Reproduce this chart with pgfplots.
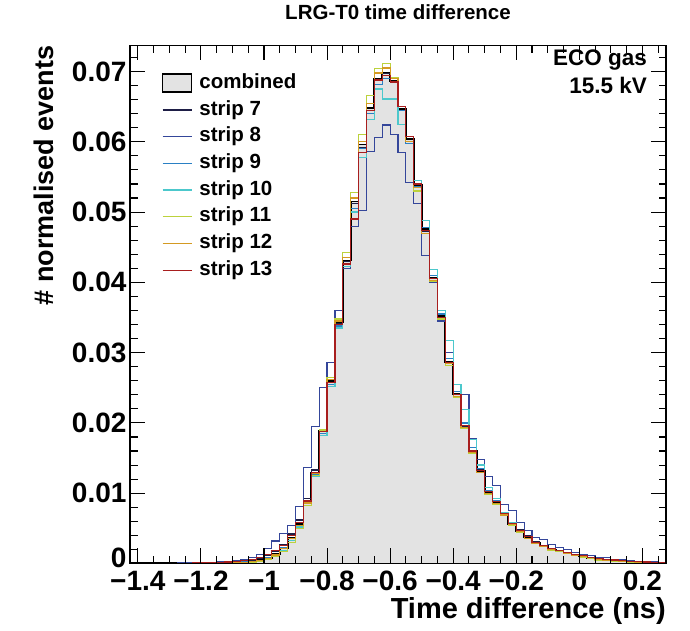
\documentclass[border=0pt]{standalone}
\usepackage{pgfplots}
\pgfplotsset{compat=1.18}
\usepackage{pgfplotstable}
\usepackage{fontspec}
\setmainfont{Liberation Sans}
\definecolor{cfill}{HTML}{E3E3E3}
\definecolor{cs7}{HTML}{1E1E46}
\definecolor{cs8}{HTML}{34469A}
\definecolor{cs9}{HTML}{2A80C4}
\definecolor{cs10}{HTML}{4CC8CC}
\definecolor{cs11}{HTML}{BCD23C}
\definecolor{cs12}{HTML}{D49A22}
\definecolor{cs13}{HTML}{A81E1E}
\pgfplotstableread{
x c s7 s8 s9 s10 s11 s12 s13
-1.425 0.00002 0.00002 0.00003 0.00002 0.00002 0.00001 0.00002 0.00002
-1.400 0.00002 0.00002 0.00003 0.00002 0.00002 0.00001 0.00002 0.00002
-1.375 0.00002 0.00002 0.00003 0.00002 0.00002 0.00001 0.00002 0.00002
-1.350 0.00002 0.00003 0.00004 0.00002 0.00002 0.00002 0.00002 0.00003
-1.325 0.00003 0.00003 0.00004 0.00003 0.00002 0.00002 0.00003 0.00003
-1.300 0.00003 0.00004 0.00005 0.00003 0.00003 0.00002 0.00003 0.00004
-1.275 0.00003 0.00004 0.00006 0.00003 0.00003 0.00002 0.00003 0.00004
-1.250 0.00004 0.00005 0.00007 0.00004 0.00003 0.00003 0.00004 0.00005
-1.225 0.00004 0.00006 0.00009 0.00004 0.00004 0.00003 0.00004 0.00006
-1.200 0.00005 0.00008 0.00012 0.00005 0.00004 0.00004 0.00005 0.00008
-1.175 0.00006 0.00010 0.00016 0.00006 0.00005 0.00005 0.00006 0.00010
-1.150 0.00008 0.00013 0.00020 0.00008 0.00007 0.00006 0.00008 0.00014
-1.125 0.00010 0.00017 0.00027 0.00010 0.00009 0.00008 0.00010 0.00020
-1.100 0.00014 0.00024 0.00037 0.00014 0.00012 0.00010 0.00013 0.00028
-1.075 0.00020 0.00033 0.00050 0.00020 0.00017 0.00015 0.00019 0.00040
-1.050 0.00030 0.00048 0.00080 0.00030 0.00026 0.00022 0.00028 0.00058
-1.025 0.00047 0.00070 0.00130 0.00046 0.00040 0.00035 0.00045 0.00090
-1.000 0.00080 0.00110 0.00210 0.00080 0.00070 0.00060 0.00075 0.00130
-0.975 0.00130 0.00170 0.00320 0.00130 0.00110 0.00100 0.00120 0.00180
-0.950 0.00220 0.00270 0.00430 0.00220 0.00190 0.00170 0.00210 0.00260
-0.925 0.00370 0.00420 0.00540 0.00360 0.00330 0.00300 0.00350 0.00400
-0.900 0.00560 0.00620 0.00810 0.00540 0.00520 0.00500 0.00540 0.00580
-0.875 0.00870 0.00920 0.01370 0.00850 0.00830 0.00820 0.00860 0.00890
-0.850 0.01290 0.01330 0.01950 0.01270 0.01240 0.01250 0.01280 0.01300
-0.825 0.01890 0.01910 0.02500 0.01850 0.01820 0.01900 0.01880 0.01880
-0.800 0.02600 0.02620 0.02860 0.02550 0.02520 0.02650 0.02620 0.02580
-0.775 0.03430 0.03420 0.03600 0.03380 0.03350 0.03480 0.03450 0.03400
-0.750 0.04310 0.04300 0.04200 0.04250 0.04220 0.04430 0.04350 0.04260
-0.725 0.05150 0.05120 0.04800 0.05050 0.05000 0.05280 0.05200 0.04900
-0.700 0.05960 0.05920 0.05020 0.05900 0.05780 0.06100 0.06000 0.05850
-0.675 0.06480 0.06450 0.05860 0.06400 0.06320 0.06660 0.06550 0.06450
-0.650 0.06900 0.06880 0.06060 0.06820 0.06750 0.07040 0.06980 0.06880
-0.625 0.06980 0.06970 0.06240 0.06900 0.06610 0.07110 0.07050 0.06940
-0.600 0.06870 0.06860 0.06100 0.06840 0.06610 0.06920 0.06900 0.06850
-0.575 0.06470 0.06450 0.05850 0.06450 0.06250 0.06500 0.06500 0.06500
-0.550 0.06040 0.06000 0.05420 0.05980 0.06000 0.06000 0.06000 0.06080
-0.525 0.05380 0.05350 0.05120 0.05360 0.05450 0.05300 0.05350 0.05400
-0.500 0.04760 0.04720 0.04380 0.04780 0.04880 0.04700 0.04700 0.04740
-0.475 0.04070 0.04050 0.04000 0.04100 0.04180 0.04020 0.04030 0.04050
-0.450 0.03520 0.03500 0.03450 0.03550 0.03600 0.03480 0.03500 0.03500
-0.425 0.02870 0.02850 0.03000 0.02920 0.03170 0.02820 0.02840 0.02860
-0.400 0.02410 0.02400 0.02550 0.02450 0.02550 0.02360 0.02380 0.02400
-0.375 0.01960 0.01950 0.02410 0.02000 0.02190 0.01920 0.01940 0.01960
-0.350 0.01600 0.01600 0.01780 0.01650 0.01760 0.01570 0.01580 0.01600
-0.325 0.01320 0.01330 0.01480 0.01350 0.01400 0.01290 0.01300 0.01320
-0.300 0.01010 0.01030 0.01240 0.01040 0.01080 0.00990 0.01000 0.01020
-0.275 0.00870 0.00900 0.01110 0.00900 0.00920 0.00840 0.00850 0.00880
-0.250 0.00700 0.00720 0.00840 0.00720 0.00730 0.00680 0.00690 0.00710
-0.225 0.00560 0.00580 0.00750 0.00570 0.00580 0.00540 0.00550 0.00570
-0.200 0.00460 0.00480 0.00580 0.00460 0.00470 0.00440 0.00450 0.00470
-0.175 0.00370 0.00390 0.00470 0.00360 0.00380 0.00350 0.00360 0.00380
-0.150 0.00290 0.00310 0.00370 0.00280 0.00300 0.00280 0.00290 0.00300
-0.125 0.00250 0.00260 0.00340 0.00240 0.00250 0.00240 0.00250 0.00260
-0.100 0.00200 0.00210 0.00270 0.00190 0.00200 0.00190 0.00200 0.00210
-0.075 0.00180 0.00190 0.00230 0.00170 0.00180 0.00170 0.00180 0.00190
-0.050 0.00150 0.00160 0.00200 0.00140 0.00150 0.00140 0.00150 0.00160
-0.025 0.00120 0.00130 0.00160 0.00110 0.00120 0.00110 0.00120 0.00130
0.000 0.00100 0.00110 0.00130 0.00090 0.00100 0.00090 0.00100 0.00110
0.025 0.00080 0.00090 0.00110 0.00070 0.00080 0.00070 0.00080 0.00090
0.050 0.00060 0.00070 0.00090 0.00060 0.00060 0.00050 0.00060 0.00070
0.075 0.00050 0.00060 0.00080 0.00050 0.00050 0.00040 0.00050 0.00060
0.100 0.00040 0.00050 0.00060 0.00040 0.00040 0.00030 0.00040 0.00050
0.125 0.00030 0.00040 0.00050 0.00030 0.00030 0.00025 0.00030 0.00040
0.150 0.00025 0.00030 0.00040 0.00025 0.00025 0.00020 0.00025 0.00030
0.175 0.00020 0.00025 0.00030 0.00020 0.00020 0.00015 0.00020 0.00025
0.200 0.00015 0.00020 0.00025 0.00015 0.00015 0.00012 0.00015 0.00020
0.225 0.00012 0.00015 0.00020 0.00012 0.00012 0.00010 0.00012 0.00015
0.250 0.00010 0.00012 0.00015 0.00010 0.00010 0.00008 0.00010 0.00012
0.275 0.00010 0.00012 0.00015 0.00010 0.00010 0.00008 0.00010 0.00012
}\histdata
\begin{document}
\begin{tikzpicture}
\useasboundingbox (0,0) rectangle (690pt,631pt);
\begin{axis}[
  at={(130pt,67.5pt)}, anchor=south west,
  scale only axis, width=536pt, height=518pt,
  xmin=-1.425, xmax=0.275, ymin=0, ymax=0.0737,
  axis on top,
  axis line style={line width=1.2pt},
  tick align=inside, tick pos=both,
  major tick length=15pt, minor tick length=7.5pt,
  every tick/.style={black, line width=1.1pt},
  xtick={-1.4,-1.2,-1,-0.8,-0.6,-0.4,-0.2,0,0.2},
  xticklabels={−1.4,−1.2,−1,−0.8,−0.6,−0.4,−0.2,0,0.2},
  minor xtick={-1.35,-1.3,-1.25,-1.15,-1.1,-1.05,-0.95,-0.9,-0.85,-0.75,-0.7,-0.65,-0.55,-0.5,-0.45,-0.35,-0.3,-0.25,-0.15,-0.1,-0.05,0.05,0.1,0.15,0.25},
  ytick={0,0.01,0.02,0.03,0.04,0.05,0.06,0.07},
  yticklabels={\raisebox{11pt}{0},0.01,0.02,0.03,0.04,0.05,0.06,0.07},
  minor ytick={0.002,0.004,0.006,0.008,0.012,0.014,0.016,0.018,0.022,0.024,0.026,0.028,0.032,0.034,0.036,0.038,0.042,0.044,0.046,0.048,0.052,0.054,0.056,0.058,0.062,0.064,0.066,0.068,0.072},
  scaled ticks=false,
  tick label style={font=\bfseries\fontsize{28}{28}\selectfont},
  xticklabel style={yshift=-4pt},
  title={LRG-T0 time difference},
  title style={at={(axis description cs:0.5,1.0386)}, anchor=base, inner sep=0pt, font=\bfseries\fontsize{20.5}{20.5}\selectfont},
  xlabel={Time difference (ns)},
  xlabel style={at={(axis description cs:1,-0.1062)}, anchor=base east, inner sep=0pt, font=\bfseries\fontsize{29}{29}\selectfont},
  ylabel={\# normalised events},
  ylabel style={at={(axis description cs:-0.1418,1)}, anchor=base east, inner sep=0pt, font=\bfseries\fontsize{27}{27}\selectfont},
  legend cell align=left,
  legend image code/.code={\draw[#1] (0pt,0pt) -- (29pt,0pt);},
  legend style={at={(axis description cs:0.0591,0.9463)}, anchor=north west, draw=none, fill=none, inner sep=0pt, outer sep=0pt, row sep=7pt, column sep=7pt, font=\bfseries\fontsize{20.5}{20.5}\selectfont, nodes={inner sep=0pt, text height=15pt, text depth=4.7pt}},
]
\addplot[const plot, fill=cfill, draw=black, line width=1.8pt,
  legend image code/.code={\draw[fill=cfill, draw=black, line width=1.8pt] (0pt,-9pt) rectangle (29pt,9pt);}]
  table[x=x,y=c]{\histdata} \closedcycle;
\addlegendentry{combined}
\addplot[const plot, draw=cs7, line width=1.2pt] table[x=x,y=s7]{\histdata};
\addlegendentry{strip 7}
\addplot[const plot, draw=cs8, line width=1.2pt] table[x=x,y=s8]{\histdata};
\addlegendentry{strip 8}
\addplot[const plot, draw=cs9, line width=1.2pt] table[x=x,y=s9]{\histdata};
\addlegendentry{strip 9}
\addplot[const plot, draw=cs10, line width=1.2pt] table[x=x,y=s10]{\histdata};
\addlegendentry{strip 10}
\addplot[const plot, draw=cs11, line width=1.2pt] table[x=x,y=s11]{\histdata};
\addlegendentry{strip 11}
\addplot[const plot, draw=cs12, line width=1.2pt] table[x=x,y=s12]{\histdata};
\addlegendentry{strip 12}
\addplot[const plot, draw=cs13, line width=1.2pt] table[x=x,y=s13]{\histdata};
\addlegendentry{strip 13}
\node[anchor=base east, inner sep=0pt, font=\bfseries\fontsize{22.5}{22.5}\selectfont] at (axis description cs:0.9646,0.9614) {ECO gas};
\node[anchor=base east, inner sep=0pt, font=\bfseries\fontsize{22.5}{22.5}\selectfont] at (axis description cs:0.9646,0.9073) {15.5 kV};
\end{axis}
\end{tikzpicture}
\end{document}
